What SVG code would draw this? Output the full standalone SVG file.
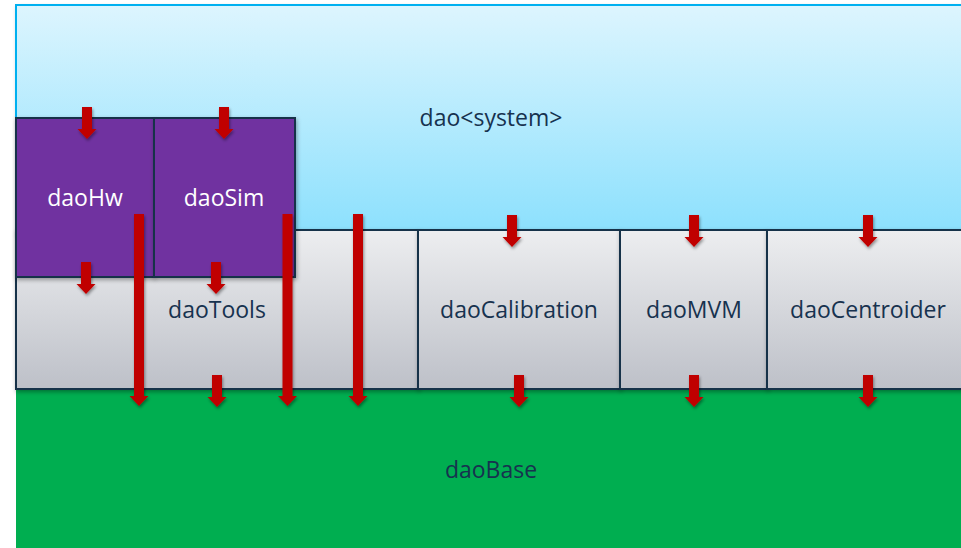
<svg xmlns="http://www.w3.org/2000/svg" width="961" height="548" viewBox="0 0 961 548">
<defs>
<linearGradient id="gSys" x1="0" y1="0" x2="0" y2="1">
<stop offset="0" stop-color="#DDF5FE"/>
<stop offset="1" stop-color="#8BE0FD"/>
</linearGradient>
<linearGradient id="gTool" x1="0" y1="0" x2="0" y2="1">
<stop offset="0" stop-color="#EDEEF0"/>
<stop offset="1" stop-color="#BDC0C8"/>
</linearGradient>
<filter id="sh" x="-20%" y="-20%" width="150%" height="150%">
<feDropShadow dx="1" dy="2" stdDeviation="2" flood-color="#000" flood-opacity="0.35"/>
</filter>
<filter id="ash" x="-50%" y="-20%" width="200%" height="150%">
<feDropShadow dx="1" dy="2" stdDeviation="1.5" flood-color="#000" flood-opacity="0.4"/>
</filter>
</defs>
<style>
.lbl{font-family:"Open Sans","Liberation Sans",sans-serif;font-size:23px;text-anchor:middle;fill:#17324F}
.wl{fill:#FFFFFF}
.tool{fill:url(#gTool);stroke:#14304A;stroke-width:2}
.hw{fill:#7030A0;stroke:#14304A;stroke-width:2}
.arr{fill:#C00000;filter:url(#ash)}
</style>
<rect width="961" height="548" fill="#FFFFFF"/>
<g id="system">
<rect x="16" y="5" width="950" height="230" fill="url(#gSys)" filter="url(#sh)"/>
<path d="M16 235 V5 H961" fill="none" stroke="#00B0F0" stroke-width="2"/>
<text class="lbl" x="491" y="126">dao&lt;system&gt;</text>
</g>
<g id="daoBase">
<rect x="16" y="389" width="950" height="165" fill="#00AE50"/>
<text class="lbl" x="491" y="478">daoBase</text>
</g>
<g id="daoTools">
<rect class="tool" x="16" y="230" width="402" height="159" filter="url(#sh)"/>
<text class="lbl" x="217" y="318">daoTools</text>
</g>
<g id="daoCalibration">
<rect class="tool" x="418" y="230" width="202" height="159" filter="url(#sh)"/>
<text class="lbl" x="519" y="318">daoCalibration</text>
</g>
<g id="daoMVM">
<rect class="tool" x="620" y="230" width="147" height="159" filter="url(#sh)"/>
<text class="lbl" x="694" y="318">daoMVM</text>
</g>
<g id="daoCentroider">
<rect class="tool" x="767" y="230" width="200" height="159" filter="url(#sh)"/>
<text class="lbl" x="868" y="318">daoCentroider</text>
</g>
<g id="daoHw">
<rect class="hw" x="16" y="118" width="138" height="159" filter="url(#sh)"/>
<text class="lbl wl" x="85" y="206">daoHw</text>
</g>
<g id="daoSim">
<rect class="hw" x="154" y="118" width="141" height="159" filter="url(#sh)"/>
<text class="lbl wl" x="224" y="206">daoSim</text>
</g>
<g id="connectors">
<path class="arr" d="M82 107 h10 v22 h4.5 l-9.5 10 l-9.5 -10 h4.5 z"/>
<path class="arr" d="M219 107 h10 v22 h4.5 l-9.5 10 l-9.5 -10 h4.5 z"/>
<path class="arr" d="M81 262 h10 v22 h4.5 l-9.5 10 l-9.5 -10 h4.5 z"/>
<path class="arr" d="M211 262 h10 v22 h4.5 l-9.5 10 l-9.5 -10 h4.5 z"/>
<path class="arr" d="M212 375 h10 v22 h4.5 l-9.5 10 l-9.5 -10 h4.5 z"/>
<path class="arr" d="M507 215 h10 v22 h4.5 l-9.5 10 l-9.5 -10 h4.5 z"/>
<path class="arr" d="M514 375 h10 v22 h4.5 l-9.5 10 l-9.5 -10 h4.5 z"/>
<path class="arr" d="M689 215 h10 v22 h4.5 l-9.5 10 l-9.5 -10 h4.5 z"/>
<path class="arr" d="M689 375 h10 v22 h4.5 l-9.5 10 l-9.5 -10 h4.5 z"/>
<path class="arr" d="M863 215 h10 v22 h4.5 l-9.5 10 l-9.5 -10 h4.5 z"/>
<path class="arr" d="M863 375 h10 v22 h4.5 l-9.5 10 l-9.5 -10 h4.5 z"/>
<path class="arr" d="M134 214 h10 v182 h4.5 l-9.5 10 l-9.5 -10 h4.5 z"/>
<path class="arr" d="M282.5 214 h10 v182 h4.5 l-9.5 10 l-9.5 -10 h4.5 z"/>
<path class="arr" d="M353 214 h10 v182 h4.5 l-9.5 10 l-9.5 -10 h4.5 z"/>
</g>
</svg>
